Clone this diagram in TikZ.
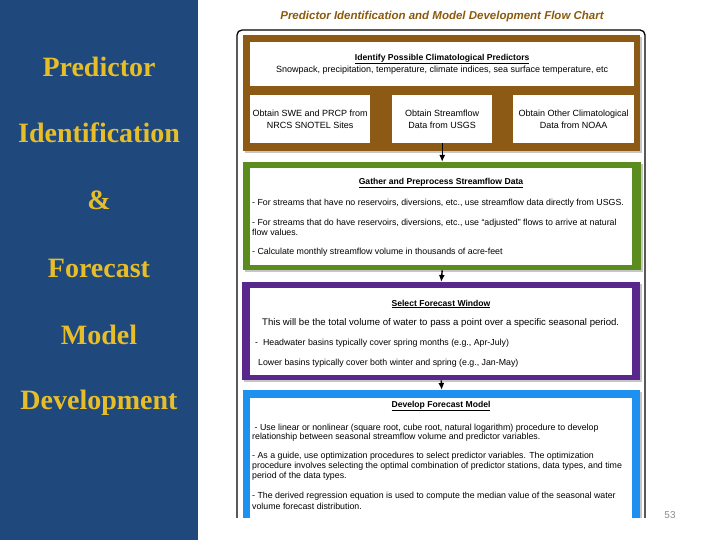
\documentclass[tikz,border=0pt]{standalone}
\usepackage{fontspec}
\setmainfont{Liberation Serif}
\setsansfont{Liberation Sans}
\usepackage{tikz}
\usetikzlibrary{arrows.meta,positioning,shadows}
\definecolor{panelblue}{RGB}{31,73,125}
\definecolor{panelgold}{RGB}{232,190,40}
\definecolor{titlebrown}{RGB}{140,90,10}
\definecolor{boxbrown}{RGB}{140,90,20}
\definecolor{boxgreen}{RGB}{90,140,30}
\definecolor{boxpurple}{RGB}{90,40,140}
\definecolor{boxblue}{RGB}{30,144,240}
\newcommand{\chartheadfont}{\sffamily\bfseries\fontsize{8.6}{10}\selectfont}

\begin{document}
\begin{tikzpicture}[x=1pt, y=-1pt,
  every node/.style={inner sep=0pt, font=\sffamily\fontsize{8.8}{10.5}\selectfont},
  outerbox/.style={anchor=north west, drop shadow={shadow xshift=2pt, shadow yshift=-2pt, opacity=0.45}},
  whitebox/.style={anchor=north west, fill=white},
  boxtext/.style={align=center, font=\sffamily\fontsize{9}{10.5}\selectfont},
  headtext/.style={font=\chartheadfont},
  bodytext/.style={anchor=west},
  paneltext/.style={text=panelgold, font=\rmfamily\bfseries\fontsize{28}{30}\selectfont},
  flow/.style={-{Latex[length=7pt,width=6pt]}, line width=1.4pt}
]
\useasboundingbox (0,0) rectangle (720,540);

% =================== left panel ===================
\fill[panelblue] (0,0) rectangle (198,540);
\foreach \w/\y [count=\i] in {Predictor/67, Identification/133, \&/200, Forecast/268, Model/335, Development/403}{
  \node[paneltext] (p\i) at (99,\y) {\w};
}

% =================== chart title ===================
\node[text=titlebrown, font=\sffamily\bfseries\itshape\fontsize{11.5}{13}\selectfont] (title) at (442,17)
  {Predictor Identification and Model Development Flow Chart};

\node[text=black!45, font=\sffamily\fontsize{10}{12}\selectfont] (pagenum) at (670,515) {53};

% =================== flow chart ===================
\begin{scope}
\clip (225,0) rectangle (660,517);
\draw[line width=1.3pt, rounded corners=5pt] (237,530) -- (237,30) -- (645,30) -- (645,530);

% brown box: predictors
\node[outerbox, fill=boxbrown, minimum width=397pt, minimum height=116pt] (predbox) at (243,35) {};
\node[whitebox, minimum width=384pt, minimum height=44pt] (identify) at (250,42) {};
\node[boxtext] (identtext) at (identify.center)
  {{\chartheadfont\underline{Identify Possible Climatological Predictors}}\\[1.5pt]
   Snowpack, precipitation, temperature, climate indices, sea surface temperature, etc};
\node[whitebox, minimum width=120pt, minimum height=48pt] (obs1) at (250,95) {};
\node[whitebox, minimum width=100pt, minimum height=48pt] (obs2) at (392,95) {};
\node[whitebox, minimum width=121pt, minimum height=48pt] (obs3) at (513,95) {};
\node[boxtext] (obs1text) at (obs1.center) {Obtain SWE and PRCP from\\[1.5pt]NRCS SNOTEL Sites};
\node[boxtext] (obs2text) at (obs2.center) {Obtain Streamflow\\[1.5pt]Data from USGS};
\node[boxtext] (obs3text) at (obs3.center) {Obtain Other Climatological\\[1.5pt]Data from NOAA};

% green box: streamflow data
\node[outerbox, fill=boxgreen, minimum width=398pt, minimum height=108pt] (gatherbox) at (243,162) {};
\node[whitebox, minimum width=382pt, minimum height=97pt] (gather) at (250,168) {};
\node[headtext] (gatherhead) at (441,183) {\underline{Gather and Preprocess Streamflow Data}};
\foreach \y/\t [count=\i] in {
  203/{- For streams that have no reservoirs, diversions, etc., use streamflow data directly from USGS.},
  223/{- For streams that do have reservoirs, diversions, etc., use ``adjusted'' flows to arrive at natural},
  232/{flow values.},
  252/{- Calculate monthly streamflow volume in thousands of acre-feet}}{
  \node[bodytext] (g\i) at (252,\y) {\t};
}

% purple box: forecast window
\node[outerbox, fill=boxpurple, minimum width=398pt, minimum height=98pt] (windowbox) at (242,282) {};
\node[whitebox, minimum width=382pt, minimum height=87pt] (window) at (250,288) {};
\node[headtext] (windowhead) at (441,304) {\underline{Select Forecast Window}};
\node[bodytext, font=\sffamily\fontsize{9.6}{11}\selectfont] (w1) at (262,323)
  {This will be the total volume of water to pass a point over a specific seasonal period.};
\node[bodytext] (w2) at (255,343) {-\ \ Headwater basins typically cover spring months (e.g., Apr-July)};
\node[bodytext] (w3) at (258,363) {Lower basins typically cover both winter and spring (e.g., Jan-May)};

% blue box: forecast model
\node[outerbox, fill=boxblue, minimum width=397pt, minimum height=140pt] (developbox) at (243,390) {};
\node[whitebox, minimum width=382pt, minimum height=130pt] (develop) at (250,398) {};
\node[headtext] (develophead) at (441,406) {\underline{Develop Forecast Model}};
\foreach \y/\t [count=\i] in {
  428/{\ - Use linear or nonlinear (square root, cube root, natural logarithm) procedure to develop},
  437/{relationship between seasonal streamflow volume and predictor variables.},
  456/{- As a guide, use optimization procedures to select predictor variables. The optimization},
  466/{procedure involves selecting the optimal combination of predictor stations, data types, and time},
  476/{period of the data types.},
  496/{- The derived regression equation is used to compute the median value of the seasonal water},
  506/{volume forecast distribution.}}{
  \node[bodytext] (d\i) at (252,\y) {\t};
}

% connectors
\draw[flow] (obs2.south) -- (gatherbox.north);
\draw[flow] (gatherbox.south) -- (windowbox.north);
\draw[flow] (windowbox.south) -- (developbox.north);
\end{scope}

\end{tikzpicture}
\end{document}
